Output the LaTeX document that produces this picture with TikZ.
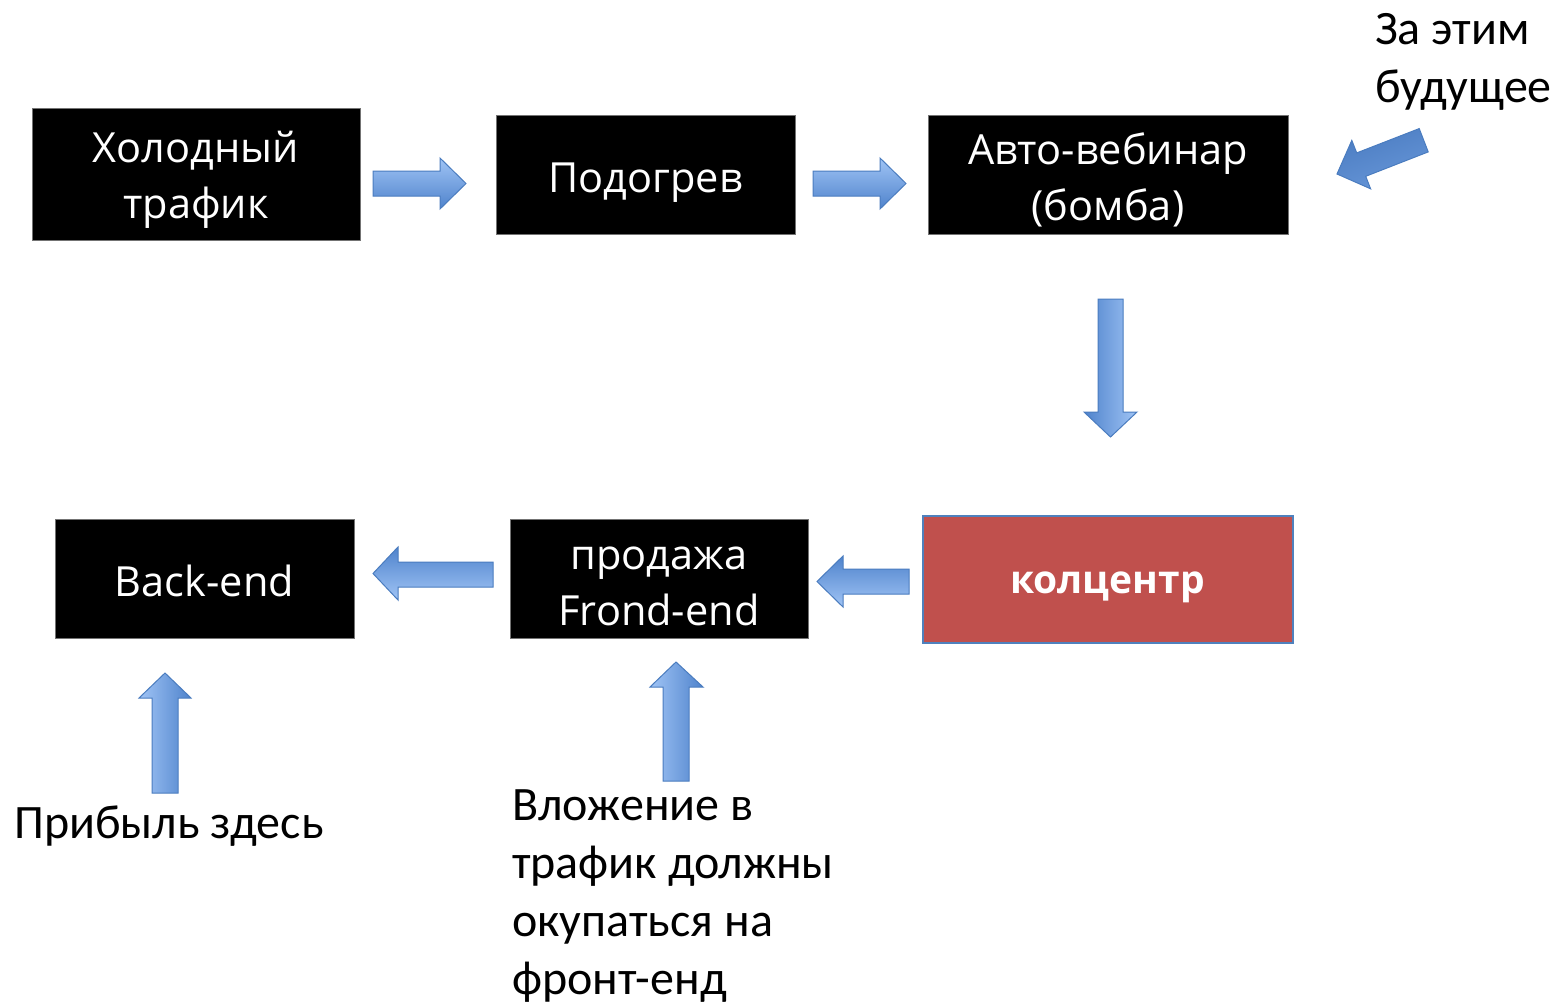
\documentclass[tikz,border=0pt]{standalone}
\usepackage{fontspec}
\setmainfont{Carlito}
\newfontfamily\boxfont{Open Sans}
\definecolor{alight}{HTML}{A0C4F5}
\definecolor{adark}{HTML}{4F83CC}
\definecolor{aedge}{HTML}{4A7CBF}
\definecolor{kred}{HTML}{C0504D}
\definecolor{kblue}{HTML}{4F81BD}
\tikzset{
  blk/.style={fill=black, draw=black!55, line width=0.6pt, text=white,
    font=\boxfont\fontsize{41.5}{56}\selectfont, align=center, inner sep=0pt},
  note/.style={font=\fontsize{48}{58}\selectfont, align=left, inner sep=0pt, text=black},
  arr/.style={draw=aedge, line width=1pt, line join=miter},
}
\begin{document}
\begin{tikzpicture}[x=1pt,y=-1pt]
\useasboundingbox[fill=white] (0,0) rectangle (1556,1002);
% boxes
\node[blk, minimum width=328pt, minimum height=132pt, text height=100pt, text depth=12pt] (cold) at (196,174) {Холодный\\трафик};
\node[blk, minimum width=299pt, minimum height=119pt, text height=40pt, text depth=5pt] (warm) at (645.5,174.5) {Подогрев};
\node[blk, minimum width=360pt, minimum height=119pt, text height=100pt, text depth=9pt] (web) at (1108,174.5) {Авто-вебинар\\(бомба)};
\node[fill=kred, draw=kblue, line width=2pt, text=white, inner sep=0pt,
  font=\boxfont\bfseries\fontsize{39}{56}\selectfont, text height=34pt, text depth=6pt,
  minimum width=370pt, minimum height=127pt] (call) at (1107.5,579) {колцентр};
\node[blk, minimum width=298pt, minimum height=119pt, text height=100pt, text depth=7pt] (sale) at (659,578.5) {продажа\\Frond-end};
\node[blk, minimum width=299pt, minimum height=119pt, text height=40pt, text depth=5pt] (back) at (204.5,578.5) {Back-end};
% notes
\node[note, anchor=base west] (future) at (1375,102) {За этим\\будущее};
\node[note, anchor=base west] (profit) at (14,838) {Прибыль здесь};
\node[note, anchor=base west] (invest) at (512,994) {Вложение в\\трафик должны\\окупаться на\\фронт-енд};
% block arrows
\shade[arr, top color=alight, bottom color=adark] (373,171)--(440,171)--(440,158)--(466,183.5)--(440,209)--(440,196)--(373,196)--cycle;
\shade[arr, top color=alight, bottom color=adark] (813,171)--(880,171)--(880,158)--(906,183.5)--(880,209)--(880,196)--(813,196)--cycle;
\shade[arr, left color=adark, right color=alight] (1098,299)--(1123,299)--(1123,412)--(1137,412)--(1110.5,437)--(1084,412)--(1098,412)--cycle;
\shade[arr, top color=adark, bottom color=alight] (909,569)--(843,569)--(843,556)--(817,581.5)--(843,607)--(843,594)--(909,594)--cycle;
\shade[arr, top color=adark, bottom color=alight] (493,562)--(398,562)--(398,547)--(373,573.5)--(398,600)--(398,587)--(493,587)--cycle;
\shade[arr, left color=alight, right color=adark] (152,793)--(152,698)--(139,698)--(165,673)--(191,698)--(178,698)--(178,793)--cycle;
\shade[arr, left color=alight, right color=adark] (663,781)--(663,687)--(650,687)--(676,662)--(703,687)--(689,687)--(689,781)--cycle;
\shade[arr, top color=adark!95!black, bottom color=adark!70!alight, shading angle=20] (1419.2,128.6)--(1356.7,152.9)--(1351.8,140.4)--(1337,174)--(1370.6,188.8)--(1365.7,176.3)--(1428.2,151.9)--cycle;
\end{tikzpicture}
\end{document}
